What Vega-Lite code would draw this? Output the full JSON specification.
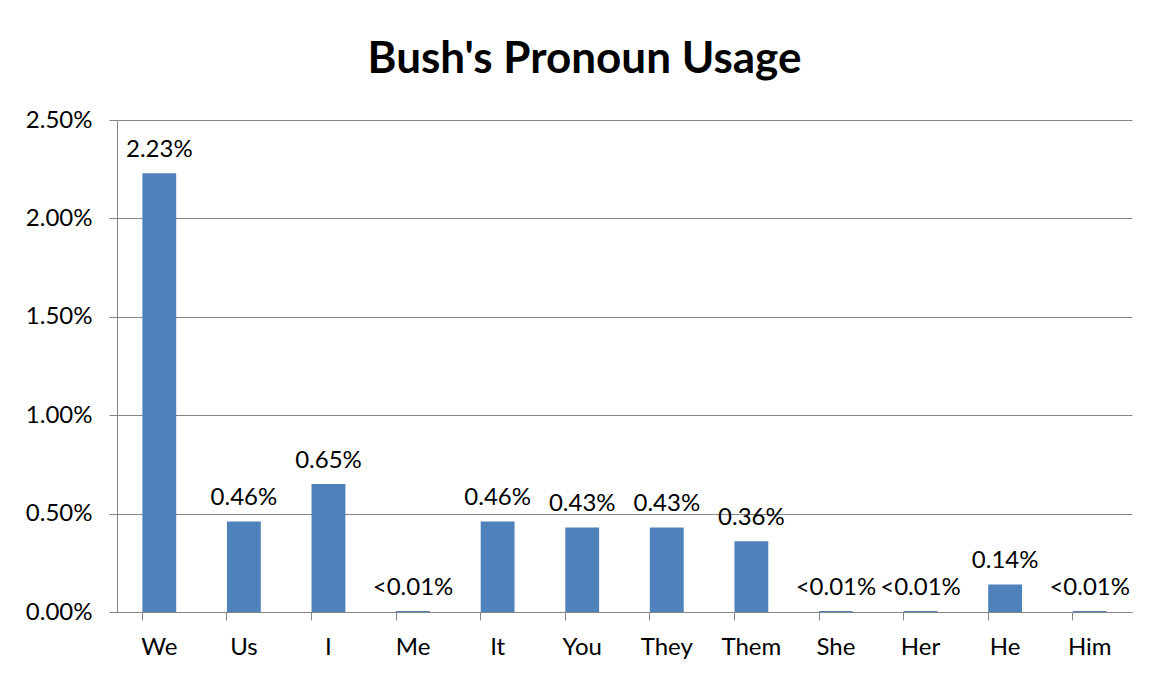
{
  "$schema": "https://vega.github.io/schema/vega-lite/v6.json",
  "autosize": "none",
  "width": 1015,
  "height": 492,
  "padding": {"left": 117, "top": 120, "right": 19, "bottom": 62},
  "background": "white",
  "title": {
    "text": "Bush's Pronoun Usage",
    "font": "Lato",
    "fontSize": 44,
    "fontWeight": "bold",
    "color": "black",
    "anchor": "middle",
    "dx": -40,
    "offset": 26
  },
  "data": {
    "values": [
      {"pronoun": "We", "share": 0.0223, "label": "2.23%"},
      {"pronoun": "Us", "share": 0.0046, "label": "0.46%"},
      {"pronoun": "I", "share": 0.0065, "label": "0.65%"},
      {"pronoun": "Me", "share": 0.00005, "label": "<0.01%"},
      {"pronoun": "It", "share": 0.0046, "label": "0.46%"},
      {"pronoun": "You", "share": 0.0043, "label": "0.43%"},
      {"pronoun": "They", "share": 0.0043, "label": "0.43%"},
      {"pronoun": "Them", "share": 0.0036, "label": "0.36%"},
      {"pronoun": "She", "share": 0.00005, "label": "<0.01%"},
      {"pronoun": "Her", "share": 0.00005, "label": "<0.01%"},
      {"pronoun": "He", "share": 0.0014, "label": "0.14%"},
      {"pronoun": "Him", "share": 0.00005, "label": "<0.01%"}
    ]
  },
  "encoding": {
    "x": {
      "field": "pronoun",
      "type": "nominal",
      "sort": null,
      "title": null,
      "scale": {"paddingInner": 0.6, "paddingOuter": 0.3},
      "axis": {
        "labelAngle": 0,
        "labelFont": "Lato",
        "labelFontSize": 24,
        "labelColor": "black",
        "labelPadding": 15,
        "tickSize": 8,
        "bandPosition": 0,
        "tickColor": "#868686",
        "domainColor": "#868686",
        "grid": false
      }
    },
    "y": {
      "field": "share",
      "type": "quantitative",
      "title": null,
      "scale": {"domain": [0, 0.025], "nice": false},
      "axis": {
        "values": [0, 0.005, 0.01, 0.015, 0.02, 0.025],
        "format": ".2%",
        "labelFont": "Lato",
        "labelFontSize": 24,
        "labelColor": "black",
        "labelPadding": 17,
        "tickSize": 8,
        "tickColor": "#868686",
        "domainColor": "#868686",
        "gridColor": "#868686",
        "grid": true
      }
    }
  },
  "layer": [
    {"mark": {"type": "bar", "color": "#4F81BD"}},
    {
      "mark": {
        "type": "text",
        "font": "Lato",
        "fontSize": 24,
        "color": "black",
        "baseline": "alphabetic",
        "dy": -16
      },
      "encoding": {"text": {"field": "label"}}
    }
  ],
  "config": {"view": {"stroke": null}}
}
